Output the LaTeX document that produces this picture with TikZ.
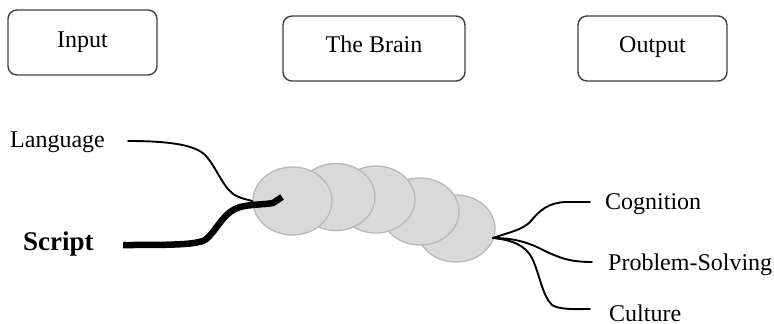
\documentclass[tikz,border=0pt]{standalone}
\usepackage{fontspec}
\setmainfont{Liberation Serif}
\usetikzlibrary{shapes.geometric}
\definecolor{boxline}{HTML}{404040}
\definecolor{blobfill}{HTML}{D9D9D9}
\definecolor{blobline}{HTML}{B8B8B8}
\tikzset{
  labelbox/.style={draw=boxline, line width=1.4pt, rounded corners=9pt, inner sep=0pt,
    minimum height=65pt, font=\fontsize{24}{28}\selectfont},
  blob/.style={ellipse, draw=blobline, fill=blobfill, line width=1.3pt, inner sep=0pt,
    minimum width=78pt, minimum height=67pt},
  word/.style={anchor=base west, inner sep=0pt, font=\fontsize{24}{28}\selectfont},
  wire/.style={draw=black, line width=1.9pt, line cap=round, line join=round},
  thickwire/.style={draw=black, line width=6.5pt, line join=round}
}
\begin{document}
\begin{tikzpicture}[x=1pt, y=-1pt]
\useasboundingbox (0,0) rectangle (774,324);
% header boxes
\node[labelbox, minimum width=149pt, text height=16pt, text depth=7pt] (input) at (82.5,42.5) {Input};
\node[labelbox, minimum width=182pt, text height=16pt, text depth=9pt] (brain) at (374,48.5) {The Brain};
\node[labelbox, minimum width=149pt, text height=16pt, text depth=9pt] (output) at (652.5,48.5) {Output};
% brain blobs
\node[blob] (c5) at (456,228.5) {};
\node[blob] (c4) at (420,211.5) {};
\node[blob] (c3) at (376,199.5) {};
\node[blob] (c2) at (336,197) {};
\node[blob, minimum width=79pt, minimum height=68pt] (c1) at (292.5,201) {};
% labels
\node[word] (lang) at (10,147) {Language};
\node[word, font=\fontsize{27}{30}\selectfont\bfseries] (script) at (23,250) {Script};
\node[word] (cog) at (605,209) {Cognition};
\node[word] (prob) at (608,270) {Problem-Solving};
\node[word] (cult) at (609,321) {Culture};
% free ends
\coordinate (l0) at (128,141);
\coordinate (s0) at (123,245);
\coordinate (hub) at (493,238);
\coordinate (g0) at (590,202);
\coordinate (p0) at (592,262);
\coordinate (u0) at (590,309);
% input connectors
\draw[wire] (l0) .. controls (170,141) and (195,145) .. (205,155)
  .. controls (215,165) and (222,185) .. (232,193)
  .. controls (238,198) and (245,199) .. (c1.west);
\draw[thickwire] (s0) .. controls (170,245) and (195,245) .. (205,240)
  .. controls (215,233) and (222,215) .. (235,209)
  .. controls (245,204) and (262,205) .. (273,203) -- (282,197);
% output connectors
\draw[wire] (hub) .. controls (510,232) and (522,230) .. (530,222)
  .. controls (540,210) and (548,203) .. (565,202) -- (g0);
\draw[wire] (hub) .. controls (515,238) and (530,243) .. (545,251)
  .. controls (560,258) and (570,262) .. (p0);
\draw[wire] (hub) .. controls (512,240) and (525,245) .. (532,258)
  .. controls (540,275) and (542,295) .. (552,305)
  .. controls (560,310) and (575,309) .. (u0);
\end{tikzpicture}
\end{document}
